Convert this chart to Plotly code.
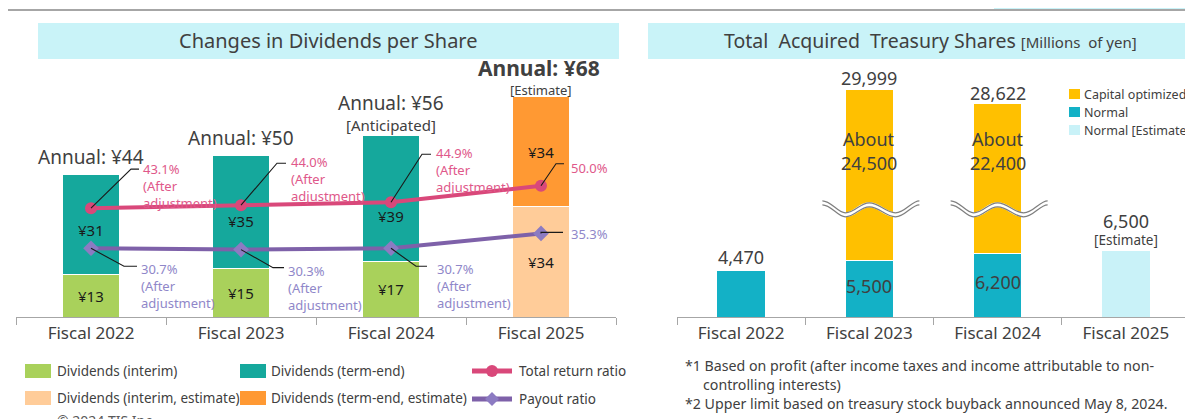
import plotly.graph_objects as go

W, H = 1193, 419

# ---------------- data ----------------
FISCAL = ["Fiscal 2022", "Fiscal 2023", "Fiscal 2024", "Fiscal 2025"]

DIV_INTERIM = [13, 15, 17, None]
DIV_TERM_END = [31, 35, 39, None]
DIV_INTERIM_EST = [None, None, None, 34]
DIV_TERM_END_EST = [None, None, None, 34]
ANNUAL_TOTAL = [44, 50, 56, 68]
ANNUAL_NOTE = ["", "", "[Anticipated]", "[Estimate]"]
TOTAL_RETURN_RATIO = [43.1, 44.0, 44.9, 50.0]
PAYOUT_RATIO = [30.7, 30.3, 30.7, 35.3]
AFTER_ADJ = [True, True, True, False]

SHARES_NORMAL = [4470, 5500, 6200, None]
SHARES_CAPITAL_OPT = [None, 24500, 22400, None]
SHARES_NORMAL_EST = [None, None, None, 6500]
SHARES_TOTAL = [4470, 29999, 28622, 6500]
SHARES_NOTE = ["", "", "", "[Estimate]"]
AXIS_BREAK = 7900  # range omitted by the wavy break mark

# ---------------- style ----------------
FONT = "Noto Sans"
TXT = "#404040"
C_INTERIM = "#A9D15B"
C_TERM = "#15A89C"
C_INTERIM_EST = "#FFCC99"
C_TERM_EST = "#FF9933"
C_PINK = "#D9487A"
C_PINK_TXT = "#E0588A"
C_PURPLE = "#7E61A9"
C_PURPLE_MK = "#8C7BC2"
C_PURPLE_TXT = "#8F87C9"
C_NORMAL = "#13B1C6"
C_CAPOPT = "#FFC000"
C_NORMAL_EST = "#C9F2F8"
C_BAND = "#C9F3F8"
BAR_W = 0.38


def px(x):
    return x / W


def py(y):
    return 1 - y / H


PLOT_TOP, PLOT_BOT = 60, 309
L_PPU = 3.24      # pixels per yen (left)
R_PPU = 0.0103    # pixels per million yen (right)
Y1_MAX = (PLOT_BOT - PLOT_TOP) / L_PPU
Y2_MIN = 9.5
Y3_MAX = (PLOT_BOT - PLOT_TOP) / R_PPU

fig = go.Figure()

# ---------- left chart: dividends ----------
fig.add_trace(go.Bar(x=FISCAL, y=DIV_INTERIM, name="Dividends (interim)", marker_color=C_INTERIM,
                     width=BAR_W, marker_line=dict(color="white", width=1), xaxis="x", yaxis="y"))
fig.add_trace(go.Bar(x=FISCAL, y=DIV_TERM_END, name="Dividends (term-end)", marker_color=C_TERM,
                     width=BAR_W, marker_line=dict(color="white", width=1), xaxis="x", yaxis="y"))
fig.add_trace(go.Bar(x=FISCAL, y=DIV_INTERIM_EST, name="Dividends (interim, estimate)", marker_color=C_INTERIM_EST,
                     width=BAR_W, marker_line=dict(color="white", width=1), xaxis="x", yaxis="y"))
fig.add_trace(go.Bar(x=FISCAL, y=DIV_TERM_END_EST, name="Dividends (term-end, estimate)", marker_color=C_TERM_EST,
                     width=BAR_W, marker_line=dict(color="white", width=1), xaxis="x", yaxis="y"))
fig.add_trace(go.Scatter(x=FISCAL, y=TOTAL_RETURN_RATIO, name="Total return ratio", mode="lines+markers",
                         line=dict(color=C_PINK, width=4), marker=dict(symbol="circle", size=12, color=C_PINK),
                         xaxis="x", yaxis="y2"))
fig.add_trace(go.Scatter(x=FISCAL, y=PAYOUT_RATIO, name="Payout ratio", mode="lines+markers",
                         line=dict(color=C_PURPLE, width=4), marker=dict(symbol="diamond", size=12, color=C_PURPLE_MK),
                         xaxis="x", yaxis="y2"))

# ---------- right chart: treasury shares ----------
cap_display = [None if v is None else v - AXIS_BREAK for v in SHARES_CAPITAL_OPT]
fig.add_trace(go.Bar(x=FISCAL, y=SHARES_NORMAL, name="Normal", marker_color=C_NORMAL, width=BAR_W,
                     marker_line=dict(color="white", width=1), xaxis="x2", yaxis="y3"))
fig.add_trace(go.Bar(x=FISCAL, y=cap_display, name="Capital optimized", marker_color=C_CAPOPT, width=BAR_W,
                     marker_line=dict(color="white", width=1), xaxis="x2", yaxis="y3"))
fig.add_trace(go.Bar(x=FISCAL, y=SHARES_NORMAL_EST, name="Normal [Estimate]", marker_color=C_NORMAL_EST, width=BAR_W,
                     marker_line=dict(color="white", width=1), xaxis="x2", yaxis="y3"))

ann = []
shapes = []


def A(text, x, y, size=14, color=TXT, xanchor="center", yanchor="middle", xref="paper", yref="paper",
      xshift=0, yshift=0, bold=False, align="center"):
    if bold:
        text = "<b>" + text + "</b>"
    ann.append(dict(text=text, x=x, y=y, xref=xref, yref=yref, xanchor=xanchor, yanchor=yanchor,
                    xshift=xshift, yshift=yshift, showarrow=False, align=align, borderpad=0,
                    font=dict(family=FONT, size=size, color=color)))


# top rule and title bands
shapes.append(dict(type="line", xref="paper", yref="paper", x0=0, x1=1, y0=py(2), y1=py(2),
                   line=dict(color="#A6A6A6", width=2)))
shapes.append(dict(type="rect", xref="paper", yref="paper", x0=px(986), x1=1, y0=py(1), y1=1,
                   fillcolor=C_BAND, line_width=0))
shapes.append(dict(type="rect", xref="paper", yref="paper", x0=px(30), x1=px(611), y0=py(51), y1=py(15),
                   fillcolor=C_BAND, line_width=0, layer="below"))
shapes.append(dict(type="rect", xref="paper", yref="paper", x0=px(640), x1=1, y0=py(51), y1=py(15),
                   fillcolor=C_BAND, line_width=0, layer="below"))
A("Changes in Dividends per Share", px(320), py(33), size=20)
A("Total  Acquired  Treasury Shares <span style='font-size:15px'>[Millions  of yen]</span>",
  px(922), py(33), size=19.5)

# left: bar value labels
TERM_LABEL_POS = [0.45, 0.42, 0.36, 0.5]
for i in range(4):
    if DIV_INTERIM[i] is not None:
        A(f"¥{DIV_INTERIM[i]}", i, DIV_INTERIM[i] / 2, size=15, color="#1A1A1A", xref="x", yref="y")
        A(f"¥{DIV_TERM_END[i]}", i, DIV_INTERIM[i] + DIV_TERM_END[i] * TERM_LABEL_POS[i], size=15,
          color="#1A1A1A", xref="x", yref="y")
    else:
        A(f"¥{DIV_INTERIM_EST[i]}", i, DIV_INTERIM_EST[i] / 2, size=15, color="#1A1A1A", xref="x", yref="y")
        A(f"¥{DIV_TERM_END_EST[i]}", i, DIV_INTERIM_EST[i] + DIV_TERM_END_EST[i] * TERM_LABEL_POS[i], size=15,
          color="#1A1A1A", xref="x", yref="y")

# left: annual totals
for i in range(4):
    if ANNUAL_NOTE[i] == "":
        A(f"Annual: ¥{ANNUAL_TOTAL[i]}", i, ANNUAL_TOTAL[i], size=19, xref="x", yref="y", yshift=17)
    elif i == 3:
        A(ANNUAL_NOTE[i], i, ANNUAL_TOTAL[i], size=13, xref="x", yref="y", yshift=7)
        A(f"Annual: ¥{ANNUAL_TOTAL[i]}", i, ANNUAL_TOTAL[i], size=21, xref="x", yref="y", yshift=29,
          xshift=-2, bold=True)
    else:
        A(ANNUAL_NOTE[i], i, ANNUAL_TOTAL[i], size=15, xref="x", yref="y", yshift=11)
        A(f"Annual: ¥{ANNUAL_TOTAL[i]}", i, ANNUAL_TOTAL[i], size=19, xref="x", yref="y", yshift=33)

# ratio labels with leader lines: (elbow dx, dy, end dx, text dx, text top dy) in pixels, y up
PINK_LEAD = [(40, 39, 48, 51, 49), (36, 42, 45, 49, 53), (31, 48, 40, 44, 59), (15, 22, 23, 29, 28)]
PURPLE_LEAD = [(33, -18, 46, 49, -11), (32, -18, 43, 46, -11), (25, -18, 36, 45, -11), (0, 1, 22, 29, 9)]


def leader(i, val, spec, txtcolor):
    ex, ey, endx, tx, ty = spec
    shapes.append(dict(type="path", xref="x", yref="y2", xsizemode="pixel", ysizemode="pixel",
                       xanchor=i, yanchor=val,
                       path=f"M0,0 L{ex},{ey} L{endx},{ey}",
                       line=dict(color="#1A1A1A", width=1.1)))
    label = f"{val:.1f}%"
    if AFTER_ADJ[i]:
        label += "<br>(After<br>adjustment)"
    A(label, i, val, size=13, color=txtcolor, xanchor="left", yanchor="top", xref="x", yref="y2",
      xshift=tx, yshift=ty, align="left")


for i in range(4):
    leader(i, TOTAL_RETURN_RATIO[i], PINK_LEAD[i], C_PINK_TXT)
    leader(i, PAYOUT_RATIO[i], PURPLE_LEAD[i], C_PURPLE_TXT)

# right: labels
WAVE_Y = 10700
for i in range(4):
    if SHARES_CAPITAL_OPT[i] is not None:
        top = SHARES_NORMAL[i] + cap_display[i]
        A(f"{SHARES_TOTAL[i]:,}", i, top, size=18, xref="x2", yref="y3", yshift=11)
        A("About", i, WAVE_Y, size=18, xref="x2", yref="y3", yshift=68)
        A(f"{SHARES_CAPITAL_OPT[i]:,}", i, WAVE_Y, size=18, xref="x2", yref="y3", yshift=44)
        A(f"{SHARES_NORMAL[i]:,}", i, SHARES_NORMAL[i] / 2, size=18, xref="x2", yref="y3", yshift=3)
        # wavy break mark
        wave = "M-47,{a} C-38,{a} -32,{b} -24,{b} C-14,{b} -10,{c} 0,{c} C10,{c} 16,{b} 26,{b} C36,{b} 42,{a} 50,{a}"
        shapes.append(dict(type="path", xref="x2", yref="y3", xsizemode="pixel", ysizemode="pixel",
                           xanchor=i, yanchor=WAVE_Y, path=wave.format(a=4, b=-8, c=2),
                           line=dict(color="white", width=5)))
        for off in (6, 2):
            shapes.append(dict(type="path", xref="x2", yref="y3", xsizemode="pixel", ysizemode="pixel",
                               xanchor=i, yanchor=WAVE_Y,
                               path=wave.format(a=off, b=off - 12, c=off - 2),
                               line=dict(color="#7F7F7F", width=1.2)))
    elif SHARES_NOTE[i]:
        A(SHARES_NOTE[i], i, SHARES_TOTAL[i], size=13.5, xref="x2", yref="y3", yshift=10)
        A(f"{SHARES_TOTAL[i]:,}", i, SHARES_TOTAL[i], size=18, xref="x2", yref="y3", yshift=29)
    else:
        A(f"{SHARES_TOTAL[i]:,}", i, SHARES_TOTAL[i], size=18, xref="x2", yref="y3", yshift=14)


# ---------- custom legends ----------
def swatch(x0, x1, yc, h, color):
    shapes.append(dict(type="rect", xref="paper", yref="paper", x0=px(x0), x1=px(x1),
                       y0=py(yc + h / 2), y1=py(yc - h / 2), fillcolor=color, line_width=0))


LEG = [
    (17, 43, 48, 363, C_INTERIM, "Dividends (interim)"),
    (232, 258, 262, 363, C_TERM, "Dividends (term-end)"),
    (17, 43, 48, 390, C_INTERIM_EST, "Dividends (interim, estimate)"),
    (232, 258, 262, 390, C_TERM_EST, "Dividends (term-end, estimate)"),
]
for x0, x1, tx, yc, col, label in LEG:
    swatch(x0, x1, yc, 14, col)
    A(label, px(tx), py(yc), size=13.5, xanchor="left")

# line legend symbols
for yc, col, mk, label, kind in [(363, C_PINK, C_PINK, "Total return ratio", "circle"),
                                 (391, C_PURPLE, C_PURPLE_MK, "Payout ratio", "diamond")]:
    shapes.append(dict(type="line", xref="paper", yref="paper", x0=px(464), x1=px(504), y0=py(yc), y1=py(yc),
                       line=dict(color=col, width=5)))
    if kind == "circle":
        shapes.append(dict(type="circle", xref="paper", yref="paper", x0=px(478), x1=px(490),
                           y0=py(yc + 6), y1=py(yc - 6), fillcolor=mk, line_width=0))
    else:
        shapes.append(dict(type="path", xref="paper", yref="paper",
                           path=f"M{px(484)},{py(yc - 7)} L{px(491)},{py(yc)} L{px(484)},{py(yc + 7)} L{px(477)},{py(yc)} Z",
                           fillcolor=mk, line_width=0))
    A(label, px(510), py(yc), size=13.5, xanchor="left")

RLEG = [(86, C_CAPOPT, "Capital optimized"), (104, C_NORMAL, "Normal"), (122, C_NORMAL_EST, "Normal [Estimate]")]
for yc, col, label in RLEG:
    swatch(1061, 1072, yc, 10, col)
    A(label, px(1075), py(yc), size=12.5, xanchor="left")

# footnotes and copyright
A("*1 Based on profit (after income taxes and income attributable to non-", px(676), py(357), size=14.2,
  xanchor="left")
A("controlling interests)", px(694), py(376), size=14.2, xanchor="left")
A("*2 Upper limit based on treasury stock buyback announced May 8, 2024.", px(676), py(395), size=14.2,
  xanchor="left")
A("© 2024 TIS Inc.", px(48), py(412), size=14, color="#595959", xanchor="left")

# ---------- axes ----------
xcommon = dict(type="category", categoryorder="array", categoryarray=FISCAL, range=[-0.5, 3.5],
               showline=True, linecolor="#A6A6A6", linewidth=1.3, ticks="outside", tickson="boundaries",
               ticklen=7, tickcolor="#A6A6A6", tickwidth=1.3, showgrid=False, zeroline=False,
               tickfont=dict(family=FONT, size=17, color=TXT), fixedrange=True)

fig.update_layout(
    width=W, height=H, margin=dict(l=0, r=0, t=0, b=0),
    paper_bgcolor="white", plot_bgcolor="white",
    barmode="stack", showlegend=False,
    font=dict(family=FONT, color=TXT),
    xaxis=dict(domain=[px(8), px(608)], anchor="y", **xcommon),
    yaxis=dict(domain=[py(PLOT_BOT), py(PLOT_TOP)], range=[0, Y1_MAX], visible=False, fixedrange=True),
    yaxis2=dict(domain=[py(PLOT_BOT), py(PLOT_TOP)], range=[Y2_MIN, Y2_MIN + Y1_MAX], overlaying="y",
                anchor="x", visible=False, fixedrange=True),
    xaxis2=dict(domain=[px(669), px(1182)], anchor="y3", **xcommon),
    yaxis3=dict(domain=[py(PLOT_BOT), py(PLOT_TOP)], range=[0, Y3_MAX], anchor="x2", visible=False,
                fixedrange=True),
    annotations=ann, shapes=shapes,
)

fig.write_html("out.html")
